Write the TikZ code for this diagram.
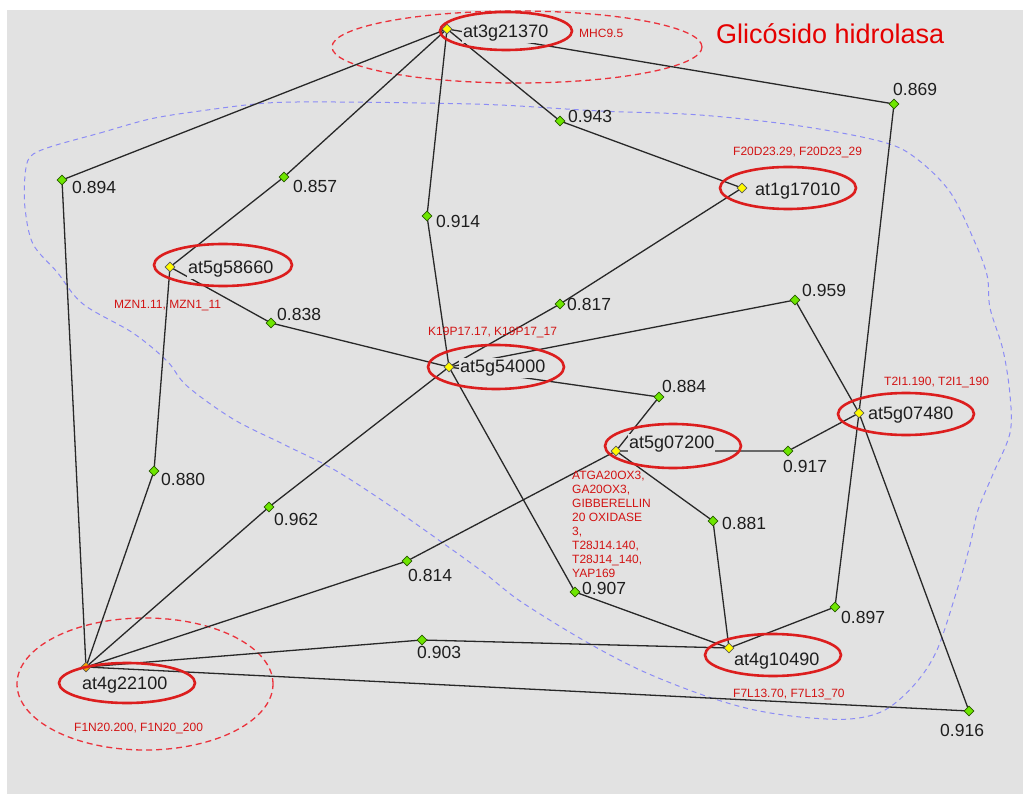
\documentclass[tikz,border=0pt]{standalone}
\usepackage{fontspec}
\setmainfont{Liberation Sans}
\usetikzlibrary{shapes.geometric}
\definecolor{bgc}{RGB}{226,226,226}
\definecolor{edgec}{RGB}{40,40,40}
\definecolor{labc}{RGB}{30,30,30}
\definecolor{annc}{RGB}{210,20,20}
\definecolor{ringc}{RGB}{220,30,30}
\definecolor{dashc}{RGB}{235,50,60}
\definecolor{bluec}{RGB}{140,140,245}
\definecolor{greenc}{RGB}{110,230,0}
\definecolor{greenb}{RGB}{40,90,0}
\definecolor{yellc}{RGB}{255,250,0}
\definecolor{orangec}{RGB}{245,165,0}
\pgfdeclarelayer{back}
\pgfdeclarelayer{edges}
\pgfsetlayers{back,edges,main}
\tikzset{
  edge/.style={draw=edgec, line width=1.3pt},
  score/.style={diamond, draw=greenb, fill=greenc, minimum size=10pt, inner sep=0pt, line width=0.8pt},
  gene/.style={diamond, draw=black!65, fill=yellc, minimum size=10pt, inner sep=0pt, line width=0.8pt},
  glabel/.style={font=\fontsize{18}{18}\selectfont, text=labc, fill=bgc, inner xsep=1pt, inner ysep=2pt, anchor=base west},
  slabel/.style={font=\fontsize{17.5}{17.5}\selectfont, text=labc, inner sep=0pt, anchor=base west},
  ann/.style={font=\fontsize{12}{14}\selectfont, text=annc, inner sep=0pt, anchor=base west},
  ring/.style={draw=ringc, line width=2.6pt},
  reddash/.style={draw=dashc, line width=1.3pt, dash pattern=on 6pt off 4pt},
  bluedash/.style={draw=bluec, line width=1pt, dash pattern=on 5pt off 4pt},
}
\begin{document}
\begin{tikzpicture}[x=1pt,y=-1pt]
\useasboundingbox (0,0) rectangle (1023,794);
\begin{pgfonlayer}{back}
\fill[white] (0,0) rectangle (1023,794);
\fill[bgc] (7,10) rectangle (1023,794);
\draw[bluedash] plot[smooth cycle, tension=0.55] coordinates {
 (50,147) (100,133) (150,119) (200,111) (267,103) (333,102) (420,103) (500,105)
 (600,111) (700,115) (800,126) (883,142) (917,159) (950,192) (973,238) (987,275)
 (990,308) (1003,350) (1010,395) (1010,433) (993,474) (978,510) (970,545) (957,590)
 (937,650) (915,684) (885,710) (850,719) (800,717) (750,709) (700,694) (640,670)
 (583,640) (520,601) (483,572) (433,536) (383,501) (333,469) (283,444) (233,419)
 (187,386) (167,361) (133,333) (83,304) (57,272) (33,244) (25,208) (25,176) (30,157)};
\draw[reddash] (517,47) ellipse [x radius=185pt, y radius=36pt];
\draw[reddash] (145,684) ellipse [x radius=128pt, y radius=66pt];
\end{pgfonlayer}

% gene nodes
\node[gene] (g1) at (447,29) {};
\node[gene] (g2) at (742,188) {};
\node[gene] (g3) at (170,267) {};
\node[gene] (g4) at (449,367) {};
\node[gene] (g5) at (616,451) {};
\node[gene] (g6) at (859,413) {};
\node[gene] (g7) at (729,648) {};
\node[gene, fill=orangec] (g8) at (86,667) {};

% score nodes
\node[score] (s894) at (62,180) {};
\node[score] (s857) at (284,177) {};
\node[score] (s914) at (427,216) {};
\node[score] (s838) at (271,323) {};
\node[score] (s880) at (154,471) {};
\node[score] (s962) at (269,507) {};
\node[score] (s814) at (407,561) {};
\node[score] (s903) at (422,640) {};
\node[score] (s943) at (560,121) {};
\node[score] (s869) at (894,104) {};
\node[score] (s817) at (560,304) {};
\node[score] (s959) at (795,300) {};
\node[score] (s884) at (659,397) {};
\node[score] (s917) at (788,451) {};
\node[score] (s881) at (713,521) {};
\node[score] (s907) at (575,592) {};
\node[score] (s897) at (835,607) {};
\node[score] (s916) at (969,711) {};

\begin{pgfonlayer}{edges}
\draw[edge] (g1.center) -- (s894.center) -- (g8.center);
\draw[edge] (g1.center) -- (s857.center) -- (g3.center);
\draw[edge] (g1.center) -- (s943.center) -- (g2.center);
\draw[edge] (g1.center) -- (s869.center) -- (g6.center);
\draw[edge] (g1.center) -- (s914.center) -- (g4.center);
\draw[edge] (g2.center) -- (s817.center) -- (g4.center);
\draw[edge] (g3.center) -- (s838.center) -- (g4.center);
\draw[edge] (g4.center) -- (s959.center) -- (g6.center);
\draw[edge] (g4.center) -- (s884.center) -- (g5.center);
\draw[edge] (g5.center) -- (s917.center) -- (g6.center);
\draw[edge] (g3.center) -- (s880.center) -- (g8.center);
\draw[edge] (g4.center) -- (s962.center) -- (g8.center);
\draw[edge] (g5.center) -- (s881.center) -- (g7.center);
\draw[edge] (g5.center) -- (s814.center) -- (g8.center);
\draw[edge] (g4.center) -- (s907.center) -- (g7.center);
\draw[edge] (g6.center) -- (s897.center) -- (g7.center);
\draw[edge] (g7.center) -- (s903.center) -- (g8.center);
\draw[edge] (g6.center) -- (s916.center) -- (g8.center);
\end{pgfonlayer}

% gene labels
\node[glabel] (l1) at (462,37.5) {at3g21370};
\node[glabel] (l2) at (754,195.5) {at1g17010};
\node[glabel] (l3) at (187,273.5) {at5g58660};
\node[glabel] (l4) at (459,372.5) {at5g54000};
\node[glabel] (l5) at (628,448.5) {at5g07200};
\node[glabel] (l6) at (867,419.5) {at5g07480};
\node[glabel] (l7) at (733,665.5) {at4g10490};
\node[glabel] (l8) at (81,689.5) {at4g22100};

% rings
\draw[ring] (506,31) ellipse [x radius=66pt, y radius=19pt];
\draw[ring] (788,188) ellipse [x radius=68pt, y radius=21pt];
\draw[ring] (223,265) ellipse [x radius=69pt, y radius=21pt];
\draw[ring] (496,367) ellipse [x radius=68pt, y radius=22pt];
\draw[ring] (673,446) ellipse [x radius=68pt, y radius=22pt];
\draw[ring] (906,414) ellipse [x radius=68pt, y radius=21pt];
\draw[ring] (773,655) ellipse [x radius=68pt, y radius=21pt];
\draw[ring] (127,683) ellipse [x radius=68pt, y radius=20pt];

% score labels
\node[slabel] (t894) at (72,193.3) {0.894};
\node[slabel] (t857) at (293,192.3) {0.857};
\node[slabel] (t914) at (436,227.3) {0.914};
\node[slabel] (t838) at (277,320.3) {0.838};
\node[slabel] (t880) at (161,485.3) {0.880};
\node[slabel] (t962) at (274,525.3) {0.962};
\node[slabel] (t814) at (408,581.3) {0.814};
\node[slabel] (t903) at (417,658.3) {0.903};
\node[slabel] (t943) at (568,122.8) {0.943};
\node[slabel] (t869) at (893,95.3) {0.869};
\node[slabel] (t817) at (567,310.3) {0.817};
\node[slabel] (t959) at (802,296.3) {0.959};
\node[slabel] (t884) at (662,392.3) {0.884};
\node[slabel] (t917) at (783,472.3) {0.917};
\node[slabel] (t881) at (722,529.3) {0.881};
\node[slabel] (t907) at (582,594.5) {0.907};
\node[slabel] (t897) at (841,623.3) {0.897};
\node[slabel] (t916) at (940,736.3) {0.916};

% annotations
\node[ann] (a1) at (579,37.3) {MHC9.5};
\node[ann] (a2) at (733,155.3) {F20D23.29, F20D23\_29};
\node[ann] (a3) at (114,308.3) {MZN1.11, MZN1\_11};
\node[ann] (a4) at (428,335.3) {K19P17.17, K19P17\_17};
\node[ann] (a5) at (884,385.3) {T2I1.190, T2I1\_190};
\node[ann, anchor=north west, align=left] (a6) at (572,470.7) {ATGA20OX3,\\GA20OX3,\\GIBBERELLIN\\20 OXIDASE\\3,\\T28J14.140,\\T28J14\_140,\\YAP169};
\node[ann] (a7) at (733,697.3) {F7L13.70, F7L13\_70};
\node[ann] (a8) at (74,731.3) {F1N20.200, F1N20\_200};

% title
\node[font=\fontsize{27}{27}\selectfont, text=red!90!black, inner sep=0pt, anchor=base west] (title) at (716,44) {Glicósido hidrolasa};
\end{tikzpicture}
\end{document}
